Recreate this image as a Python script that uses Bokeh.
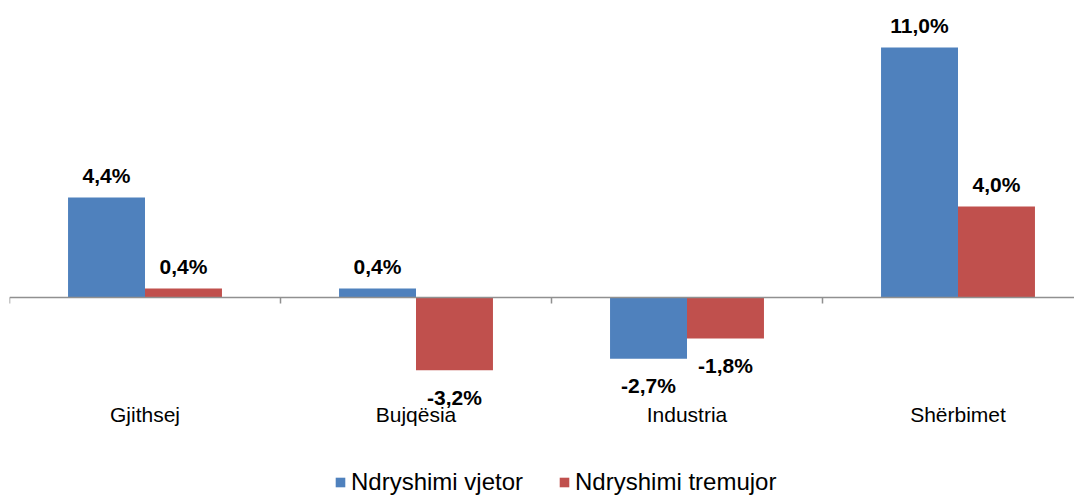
from bokeh.plotting import figure
from bokeh.models import ColumnDataSource, Range1d, LinearAxis, FixedTicker, Legend
from bokeh.core.properties import value
from bokeh.embed import file_html
from bokeh.resources import INLINE

categories = ["Gjithsej", "Bujqësia", "Industria", "Shërbimet"]
vjetor = [4.4, 0.4, -2.7, 11.0]
tremujor = [0.4, -3.2, -1.8, 4.0]
series_names = ["Ndryshimi vjetor", "Ndryshimi tremujor"]
colors = ["#4F81BD", "#C0504D"]

W, H = 1074, 496
BAR_W = 0.284
PX_PER_CAT = 271.0
PX_PER_UNIT = 22.727
ZERO_PX = 297              # zero line, px from figure top
FRAME_LEFT = 9

x_end = (W - FRAME_LEFT) / PX_PER_CAT
y_top = ZERO_PX / PX_PER_UNIT
y_bottom = -(H - ZERO_PX) / PX_PER_UNIT

p = figure(width=W, height=H, output_backend="svg", toolbar_location=None,
           x_axis_type=None, y_axis_type=None,
           x_range=Range1d(0, x_end), y_range=Range1d(y_bottom, y_top),
           min_border_left=FRAME_LEFT, min_border_right=0,
           min_border_top=0, min_border_bottom=0)
p.outline_line_color = None
p.background_fill_color = "white"

FONT = "Liberation Sans"

def fmt(v):
    return f"{v:.1f}%".replace(".", ",")

renderers = []
for k, (vals, col, name) in enumerate(zip([vjetor, tremujor], colors, series_names)):
    shift = (-0.5 + k) * BAR_W
    xs = [i + 0.5 + shift for i in range(len(categories))]
    src = ColumnDataSource(dict(
        x=xs, top=vals,
        label=[fmt(v) for v in vals],
        yoff=[-22 if v >= 0 else 27 for v in vals],
    ))
    r = p.vbar(x="x", top="top", bottom=0, width=BAR_W, source=src,
               fill_color=col, line_color=None)
    renderers.append((name, [r]))
    p.text(x="x", y="top", text="label", y_offset="yoff", source=src,
           text_align="center", text_baseline="middle",
           text_font_size="21px", text_font_style="bold",
           text_color="black", text_font=value(FONT))

# zero axis line with category boundary ticks
bounds = list(range(len(categories) + 1))
zero_axis = LinearAxis(fixed_location=0,
                       ticker=FixedTicker(ticks=bounds),
                       major_label_overrides={b: "" for b in bounds},
                       major_tick_out=6, major_tick_in=0,
                       minor_tick_line_color=None,
                       axis_line_color="#909090", axis_line_width=1.5,
                       major_tick_line_color="#909090", major_tick_line_width=1.5)
p.add_layout(zero_axis, "below")

# category labels at bottom
label_pos = -(392 - ZERO_PX) / PX_PER_UNIT
cat_axis = LinearAxis(fixed_location=label_pos,
                      ticker=FixedTicker(ticks=[i + 0.5 for i in range(len(categories))]),
                      major_label_overrides={i + 0.5: c for i, c in enumerate(categories)},
                      major_label_standoff=4,
                      major_label_text_font_size="21px",
                      major_label_text_font=FONT,
                      major_label_text_color="black",
                      axis_line_color=None, major_tick_line_color=None,
                      minor_tick_line_color=None)
p.add_layout(cat_axis, "below")

legend = Legend(items=renderers, orientation="horizontal",
                location=(325, 0),
                label_text_font_size="24px", label_text_font=FONT,
                label_text_color="black",
                glyph_width=12, glyph_height=12, label_standoff=5,
                spacing=35, padding=0, margin=0,
                border_line_color=None, background_fill_alpha=0)
p.add_layout(legend, "center")

open("out.html", "w").write(file_html(p, INLINE))
